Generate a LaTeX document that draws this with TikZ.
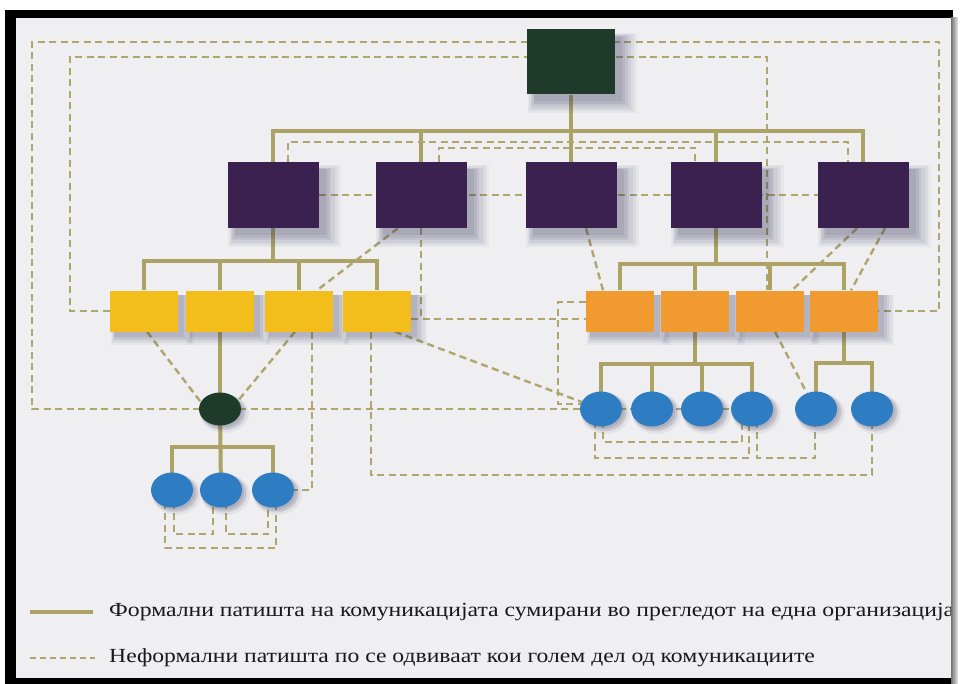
\documentclass[tikz,border=0pt]{standalone}
\usepackage{fontspec}
\setmainfont{Liberation Serif}
\usetikzlibrary{shapes.geometric,shadows}
\pgfdeclarelayer{back}
\pgfdeclarelayer{lines}
\pgfsetlayers{back,lines,main}
\definecolor{formalc}{HTML}{ADA265}
\definecolor{infc}{HTML}{B0A56D}
\definecolor{topc}{HTML}{1E3A2B}
\definecolor{purp}{HTML}{3A2150}
\definecolor{yel}{HTML}{F3BE1C}
\definecolor{orng}{HTML}{F19A30}
\definecolor{blu}{HTML}{2E7DC2}
\definecolor{bgc}{HTML}{EFEFF2}
\definecolor{shc}{HTML}{3A3858}
\tikzset{
 sh/.style n args={3}{general shadow={fill=shc, opacity=#3, shadow xshift=#1, shadow yshift=-#1, shadow scale=#2}},
 bigshad/.style={sh={9pt}{1.24}{0.05}, sh={9pt}{1.19}{0.06}, sh={9pt}{1.14}{0.07},
                 sh={8pt}{1.09}{0.08}, sh={8pt}{1.04}{0.09}, sh={7pt}{1.0}{0.1}},
 midshad/.style={sh={7pt}{1.22}{0.05}, sh={7pt}{1.17}{0.06}, sh={6pt}{1.12}{0.07},
                 sh={6pt}{1.07}{0.08}, sh={5pt}{1.02}{0.1}},
 smallshad/.style={sh={4pt}{1.16}{0.07}, sh={3pt}{1.10}{0.09}, sh={3pt}{1.04}{0.11}, sh={2pt}{1.0}{0.12}},
 topbox/.style={rectangle, fill=topc, minimum width=88pt, minimum height=65pt, inner sep=0pt, bigshad},
 pbox/.style={rectangle, fill=purp, minimum width=91pt, minimum height=66pt, inner sep=0pt, bigshad},
 ybox/.style={rectangle, fill=yel, minimum width=68pt, minimum height=41pt, inner sep=0pt, midshad},
 obox/.style={rectangle, fill=orng, minimum width=68pt, minimum height=41pt, inner sep=0pt, midshad},
 bcirc/.style={ellipse, fill=blu, minimum width=42pt, minimum height=35pt, inner sep=0pt, smallshad},
 gcirc/.style={ellipse, fill=topc, minimum width=42pt, minimum height=33pt, inner sep=0pt, smallshad},
 formal/.style={draw=formalc, line width=4pt},
 inf/.style={draw=infc, line width=2.4pt, dash pattern=on 7pt off 4.5pt},
 legdash/.style={draw=infc, line width=2pt, dash pattern=on 6pt off 4pt},
 legtext/.style={anchor=west, inner sep=0pt, text=black!90, font=\fontsize{20}{24}\selectfont},
}
\begin{document}
\begin{tikzpicture}[x=1pt,y=-1pt]
\useasboundingbox (0,0) rectangle (965,684);
\begin{pgfonlayer}{back}
\fill[white] (0,0) rectangle (965,684);
\fill[black] (5,10) rectangle (953,684);
\fill[bgc] (16,18) rectangle (951,678);
\end{pgfonlayer}

% nodes
\node[topbox] (top) at (571,62) {};
\node[pbox] (P1) at (273,195) {};
\node[pbox] (P2) at (421,195) {};
\node[pbox] (P3) at (571,195) {};
\node[pbox] (P4) at (716,195) {};
\node[pbox] (P5) at (863,195) {};
\node[ybox] (Y1) at (144,311) {};
\node[ybox] (Y2) at (220,311) {};
\node[ybox] (Y3) at (299,311) {};
\node[ybox] (Y4) at (377,311) {};
\node[obox] (O1) at (620,311) {};
\node[obox] (O2) at (695,311) {};
\node[obox] (O3) at (770,311) {};
\node[obox] (O4) at (844,311) {};
\node[gcirc] (E) at (220,409) {};
\node[bcirc] (L1) at (172,490) {};
\node[bcirc] (L2) at (221,490) {};
\node[bcirc] (L3) at (273,490) {};
\node[bcirc] (B1) at (601,409) {};
\node[bcirc] (B2) at (652,409) {};
\node[bcirc] (B3) at (702,409) {};
\node[bcirc] (B4) at (752,409) {};
\node[bcirc] (B5) at (816,409) {};
\node[bcirc] (B6) at (872,409) {};

\begin{pgfonlayer}{lines}
% formal paths
\draw[formal] (top.south) -- (P3.north);
\draw[formal] (P1.north) -- ++(0,-31) -| (P5.north);
\foreach \n in {P2,P4} \draw[formal] (\n.north) -- ++(0,-31);
\draw[formal] (P1.south) -- ++(0,34);
\draw[formal] (Y1.north) -- ++(0,-29) -| (Y4.north);
\foreach \n in {Y2,Y3} \draw[formal] (\n.north) -- ++(0,-29);
\draw[formal] (Y2.south) -- (E.center);
\draw[formal] (L2.center) -- (E.center);
\draw[formal] (L1.center) -- ++(0,-43) -| (L3.center);
\draw[formal] (P4.south) -- ++(0,36);
\draw[formal] (O1.north) -- ++(0,-26.5) -| (O4.north);
\foreach \n in {O2,O3} \draw[formal] (\n.north) -- ++(0,-26.5);
\draw[formal] (O2.south) -- ++(0,33);
\draw[formal] (B1.center) -- ++(0,-45) -| (B4.center);
\foreach \n in {B2,B3} \draw[formal] (\n.center) -- ++(0,-45);
\draw[formal] (O4.south) -- ++(0,32);
\draw[formal] (B5.center) -- ++(0,-46) -| (B6.center);

% informal paths
\draw[inf] (B4.center) -- (32,409) |- (939,42) |- (O4.east);
\draw[inf] (Y1.west) -| (70,57) -| ([xshift=-3pt]O3.north);
\draw[inf] ([xshift=15pt]P1.north) -- ++(0,-20) -| ([xshift=-15pt]P5.north);
\draw[inf] ([xshift=18pt]P2.north) -- ++(0,-14) -| ([xshift=-21pt]P4.north);
\draw[inf] (P1.center) -- (P5.center);
\draw[inf] ([xshift=-23pt]P2.south) -- ([xshift=18pt]Y3.north);
\draw[inf] (P2.south) -- ++(0,91);
\draw[inf] ([yshift=-8pt]Y4.east) -- ([yshift=-8pt]O1.west);
\draw[inf] ([yshift=9pt]O1.west) -| (558,404) -- (600,404);
\draw[inf] ([xshift=18pt]Y4.south) -- (B1.160);
\draw[inf] ([xshift=-6pt]Y4.south) |- (872,475) -- (B6.center);
\draw[inf] ([xshift=3pt]Y1.south) -- (E.160);
\draw[inf] ([xshift=-4pt]Y3.south) -- (E.25);
\draw[inf] ([xshift=13pt]Y3.south) |- (L3.center);
\draw[inf] ([xshift=-7pt]L1.center) -- ++(0,58) -| ([xshift=3pt]L3.center);
\draw[inf] ([xshift=2pt]L1.center) -- ++(0,44) -| ([xshift=-8pt]L2.center);
\draw[inf] ([xshift=5pt]L2.center) -- ++(0,44) -| ([xshift=-5pt]L3.center);
\draw[inf] ([xshift=15pt]P3.south) -- ([xshift=-17pt]O1.north);
\draw[inf] ([xshift=-6pt]P5.south) -- ([xshift=22pt]O3.north);
\draw[inf] ([xshift=22pt]P5.south) -- ([xshift=7pt]O4.north);
\draw[inf] ([xshift=5pt]O3.south) -- (B5.120);
\draw[inf] ([xshift=-6pt]B1.center) -- ++(0,49) -| ([xshift=-3pt]B4.center);
\draw[inf] ([xshift=2pt]B1.center) -- ++(0,33) -| ([xshift=-10pt]B4.center);
\draw[inf] ([xshift=5pt]B4.center) -- ++(0,49) -| ([xshift=-1pt]B5.center);
\end{pgfonlayer}

% legend
\draw[formal] (30,612) -- (93,612);
\node[legtext] (t1) at (109,612) {\scalebox{1.185}[1]{Формални патишта на комуникацијата сумирани во прегледот на една организација}};
\draw[legdash] (30,658) -- (95,658);
\node[legtext] (t2) at (109,658) {\scalebox{1.182}[1]{Неформални патишта по се одвиваат кои голем дел од комуникациите}};

% right edge of the frame, over the text
\shade[left color=black!55, right color=black!8] (951,18) rectangle (958,684);
\fill[white] (958,0) rectangle (965,684);
\end{tikzpicture}
\end{document}
